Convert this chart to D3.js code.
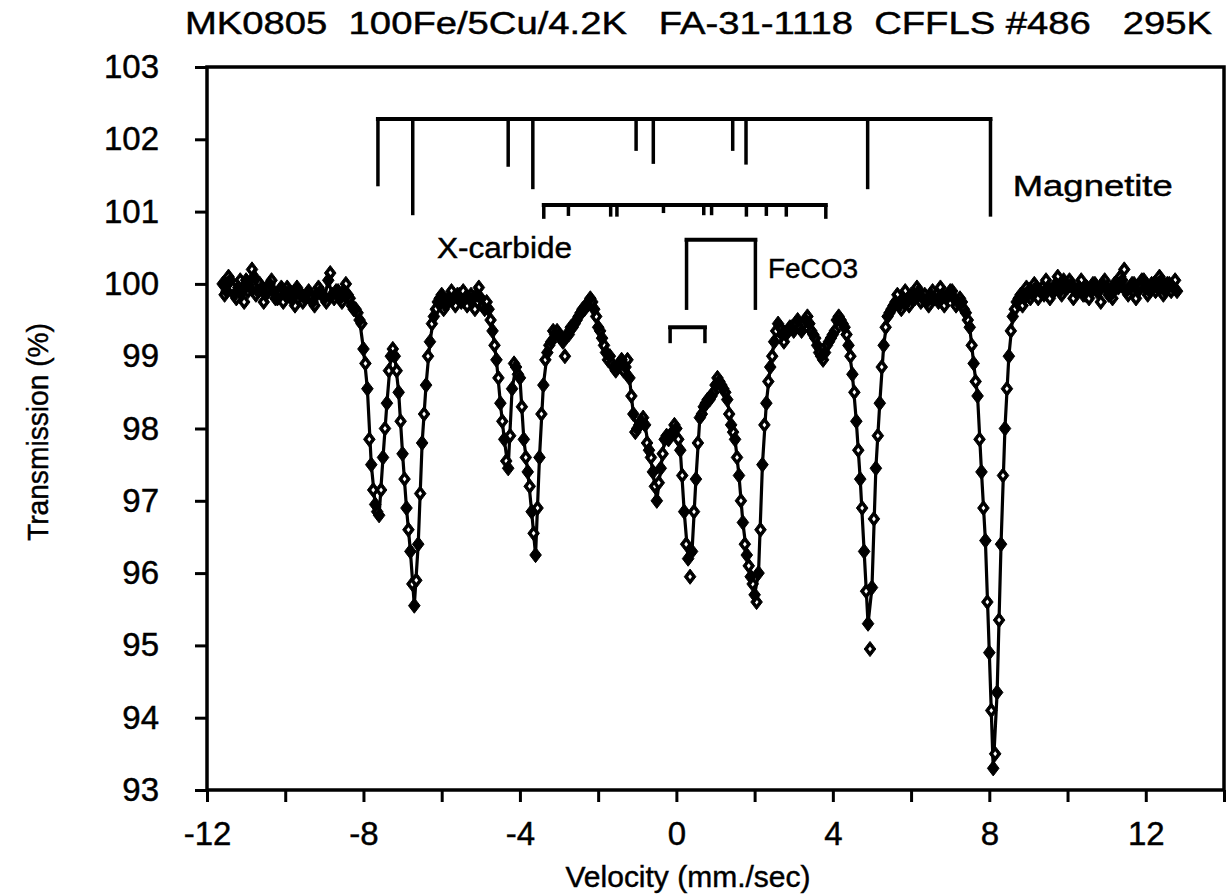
<!DOCTYPE html>
<html><head><meta charset="utf-8">
<script src="https://cdn.jsdelivr.net/npm/d3@7"></script>
<style>
html,body{margin:0;padding:0;background:#fff;}
svg{display:block;background:#fff;}
text{font-family:"Liberation Sans",Arial,Helvetica,sans-serif;fill:#000;stroke:#000;stroke-width:0.45px;}
</style></head><body>
<svg id="chart" width="1227" height="894"></svg>
<script>
// ---------- text ----------
const titleText = "MK0805  100Fe/5Cu/4.2K   FA-31-1118  CFFLS #486   295K";
const xLabelText = "Velocity (mm./sec)";
const yLabelText = "Transmission (%)";

// ---------- ticks ----------
const xTicks = [-12,-10,-8,-6,-4,-2,0,2,4,6,8,10,12,14];
const xTickLabels = [-12,-8,-4,0,4,8,12];
const yTicks = [93,94,95,96,97,98,99,100,101,102,103];

// ---------- spectrum, run A (filled diamonds, joined) ----------
const velocityA = [
-11.6,-11.5,-11.4,-11.3,-11.2,-11.1,-11.0,-10.9,-10.8,-10.7,
-10.6,-10.5,-10.4,-10.3,-10.2,-10.1,-10.0,-9.9,-9.8,-9.7,
-9.6,-9.5,-9.4,-9.3,-9.2,-9.1,-9.0,-8.9,-8.8,-8.7,
-8.6,-8.5,-8.4,-8.3,-8.2,-8.1,-8.0,-7.9,-7.8,-7.7,
-7.6,-7.5,-7.4,-7.3,-7.2,-7.1,-7.0,-6.9,-6.8,-6.7,
-6.6,-6.5,-6.4,-6.3,-6.2,-6.1,-6.0,-5.9,-5.8,-5.7,
-5.6,-5.5,-5.4,-5.3,-5.2,-5.1,-5.0,-4.9,-4.8,-4.7,
-4.6,-4.5,-4.4,-4.3,-4.2,-4.1,-4.0,-3.9,-3.8,-3.7,
-3.6,-3.5,-3.4,-3.3,-3.2,-3.1,-3.0,-2.9,-2.8,-2.7,
-2.6,-2.5,-2.4,-2.3,-2.2,-2.1,-2.0,-1.9,-1.8,-1.7,
-1.6,-1.5,-1.4,-1.3,-1.2,-1.1,-1.0,-0.9,-0.8,-0.7,
-0.6,-0.5,-0.4,-0.3,-0.2,-0.1,0.0,0.1,0.2,0.3,
0.4,0.5,0.6,0.7,0.8,0.9,1.0,1.1,1.2,1.3,
1.4,1.5,1.6,1.7,1.8,1.9,2.0,2.1,2.2,2.3,
2.4,2.5,2.6,2.7,2.8,2.9,3.0,3.1,3.2,3.3,
3.4,3.5,3.6,3.7,3.8,3.9,4.0,4.1,4.2,4.3,
4.4,4.5,4.6,4.7,4.8,4.9,5.0,5.1,5.2,5.3,
5.4,5.5,5.6,5.7,5.8,5.9,6.0,6.1,6.2,6.3,
6.4,6.5,6.6,6.7,6.8,6.9,7.0,7.1,7.2,7.3,
7.4,7.5,7.6,7.7,7.8,7.9,8.0,8.1,8.2,8.3,
8.4,8.5,8.6,8.7,8.8,8.9,9.0,9.1,9.2,9.3,
9.4,9.5,9.6,9.7,9.8,9.9,10.0,10.1,10.2,10.3,
10.4,10.5,10.6,10.7,10.8,10.9,11.0,11.1,11.2,11.3,
11.4,11.5,11.6,11.7,11.8,11.9,12.0,12.1,12.2,12.3,
12.4,12.5,12.6,12.7,12.8];
const transmissionA = [
100.0,99.9,100.05,99.85,99.95,99.9,100.05,99.95,100.1,99.9,
99.95,99.85,100.0,99.9,99.8,99.95,99.85,99.9,99.8,99.95,
99.85,99.8,99.9,99.75,99.85,99.9,99.8,100.05,99.85,99.9,
99.8,99.9,99.85,99.7,99.65,99.5,99.1,98.55,97.5,96.95,
96.8,97.6,98.35,99.0,99.0,98.5,97.65,96.9,96.3,95.55,
96.4,97.8,98.6,99.2,99.55,99.75,99.85,99.7,99.8,99.8,
99.85,99.75,99.8,99.8,99.8,99.85,99.8,99.65,99.65,99.35,
98.95,98.35,97.85,97.45,98.55,98.85,98.7,97.85,97.4,96.85,
96.25,97.6,98.6,99.05,99.2,99.3,99.3,99.2,99.3,99.4,
99.45,99.55,99.65,99.7,99.8,99.65,99.4,99.25,99.05,99.0,
98.85,98.85,98.95,98.85,98.7,98.2,98.0,98.1,98.05,97.7,
97.4,97.0,97.45,97.85,97.85,97.95,98.0,97.7,96.85,96.2,
96.3,97.3,98.15,98.3,98.4,98.45,98.6,98.65,98.55,98.4,
98.05,97.85,97.35,96.7,96.25,95.95,95.7,96.0,97.5,98.35,
98.85,99.2,99.45,99.3,99.3,99.4,99.35,99.5,99.35,99.5,
99.45,99.3,99.15,99.0,99.05,99.2,99.3,99.5,99.5,99.4,
99.15,98.75,98.1,97.3,96.3,95.3,95.8,97.45,98.35,99.15,
99.55,99.65,99.75,99.7,99.8,99.75,99.85,99.8,99.9,99.8,
99.75,99.85,99.8,99.75,99.85,99.8,99.9,99.8,99.75,99.75,
99.6,99.4,98.9,98.45,97.4,96.45,94.9,93.3,94.35,96.4,
98.0,99.0,99.55,99.75,99.85,99.8,99.9,99.85,99.95,99.9,
99.85,99.95,99.9,100.0,99.9,100.05,99.95,100.0,99.9,99.95,
99.85,99.95,99.9,100.0,99.9,100.0,99.95,99.85,100.0,99.95,
100.05,99.9,99.95,100.0,99.9,100.05,99.95,99.9,100.0,99.95,
100.05,99.9,100.0,99.95,99.9];

// ---------- spectrum, run B (open-centred diamonds) ----------
const velocityB = [
-11.55,-11.45,-11.35,-11.25,-11.15,-11.05,-10.95,-10.85,-10.75,-10.65,
-10.55,-10.45,-10.35,-10.25,-10.15,-10.05,-9.95,-9.85,-9.75,-9.65,
-9.55,-9.45,-9.35,-9.25,-9.15,-9.05,-8.95,-8.85,-8.75,-8.65,
-8.55,-8.45,-8.35,-8.25,-8.15,-8.05,-7.95,-7.85,-7.75,-7.65,
-7.55,-7.45,-7.35,-7.25,-7.15,-7.05,-6.95,-6.85,-6.75,-6.65,
-6.55,-6.45,-6.35,-6.25,-6.15,-6.05,-5.95,-5.85,-5.75,-5.65,
-5.55,-5.45,-5.35,-5.25,-5.15,-5.05,-4.95,-4.85,-4.75,-4.65,
-4.55,-4.45,-4.35,-4.25,-4.15,-4.05,-3.95,-3.85,-3.75,-3.65,
-3.55,-3.45,-3.35,-3.25,-3.15,-3.05,-2.95,-2.85,-2.75,-2.65,
-2.55,-2.45,-2.35,-2.25,-2.15,-2.05,-1.95,-1.85,-1.75,-1.65,
-1.55,-1.45,-1.35,-1.25,-1.15,-1.05,-0.95,-0.85,-0.75,-0.65,
-0.55,-0.45,-0.35,-0.25,-0.15,-0.05,0.05,0.15,0.25,0.35,
0.45,0.55,0.65,0.75,0.85,0.95,1.05,1.15,1.25,1.35,
1.45,1.55,1.65,1.75,1.85,1.95,2.05,2.15,2.25,2.35,
2.45,2.55,2.65,2.75,2.85,2.95,3.05,3.15,3.25,3.35,
3.45,3.55,3.65,3.75,3.85,3.95,4.05,4.15,4.25,4.35,
4.45,4.55,4.65,4.75,4.85,4.95,5.05,5.15,5.25,5.35,
5.45,5.55,5.65,5.75,5.85,5.95,6.05,6.15,6.25,6.35,
6.45,6.55,6.65,6.75,6.85,6.95,7.05,7.15,7.25,7.35,
7.45,7.55,7.65,7.75,7.85,7.95,8.05,8.15,8.25,8.35,
8.45,8.55,8.65,8.75,8.85,8.95,9.05,9.15,9.25,9.35,
9.45,9.55,9.65,9.75,9.85,9.95,10.05,10.15,10.25,10.35,
10.45,10.55,10.65,10.75,10.85,10.95,11.05,11.15,11.25,11.35,
11.45,11.55,11.65,11.75,11.85,11.95,12.05,12.15,12.25,12.35,
12.45,12.55,12.65,12.75];
const transmissionB = [
99.85,100.1,99.95,99.8,100.05,99.75,99.9,100.2,99.85,100.0,
99.75,99.9,100.05,99.8,99.9,99.75,99.95,99.8,99.7,99.9,
99.75,99.85,99.8,99.7,99.95,99.85,99.75,100.15,99.8,99.9,
99.75,100.0,99.8,99.65,99.6,99.45,98.9,97.85,97.15,96.85,
97.15,98.0,98.8,99.1,98.8,98.1,97.3,96.6,95.85,95.9,
97.1,98.2,99.0,99.45,99.65,99.8,99.65,99.75,99.9,99.7,
99.85,99.9,99.7,99.85,99.65,99.95,99.7,99.75,99.5,99.15,
98.7,98.1,97.55,97.9,98.9,98.75,98.3,97.6,97.2,96.55,
96.9,98.2,98.95,99.15,99.35,99.35,99.25,99.0,99.3,99.4,
99.5,99.6,99.65,99.75,99.75,99.55,99.35,99.15,98.95,98.9,
98.8,98.9,98.8,98.95,98.45,97.95,98.05,98.15,97.8,97.6,
97.2,97.25,97.65,97.9,97.9,98.05,97.85,97.35,96.4,95.95,
96.85,97.8,98.2,98.35,98.4,98.5,98.7,98.6,98.5,98.2,
97.95,97.6,97.0,96.4,96.1,95.85,95.6,96.6,98.05,98.65,
99.0,99.35,99.4,99.2,99.35,99.4,99.45,99.4,99.45,99.55,
99.35,99.25,99.05,98.95,99.15,99.25,99.35,99.55,99.45,99.3,
99.0,98.5,97.7,96.9,95.75,94.95,96.75,97.9,98.85,99.4,
99.6,99.7,99.85,99.65,99.9,99.7,99.8,99.95,99.75,99.85,
99.7,99.9,99.85,99.95,99.7,99.85,99.9,99.7,99.8,99.65,
99.5,99.15,98.65,97.85,96.9,95.6,94.1,93.5,95.35,97.35,
98.55,99.35,99.65,99.8,99.7,99.95,99.8,100.0,99.8,99.95,
100.05,99.8,99.9,100.1,99.85,99.95,100.05,99.8,99.9,100.05,
99.85,99.8,100.0,99.9,99.75,100.05,99.85,99.8,99.95,100.1,
100.2,99.85,100.0,99.8,99.95,100.05,99.85,100.0,99.9,100.1,
99.85,100.0,99.9,100.05];

// ---------- stick diagrams (velocity, lower end in % transmission) ----------
const magnetiteName = "Magnetite";
const magnetiteLines = [-7.63,-6.74,-4.30,-3.67,-1.03,-0.59,1.44,1.78,4.89,8.03];
const magnetiteEnds  = [101.35,100.95,101.62,101.31,101.84,101.66,101.84,101.65,101.31,100.93];
const magnetiteLevel = [102.28];

const carbideName = "X-carbide";
const carbideLines = [-3.39,-2.76,-1.68,-1.52,-0.33,0.70,0.90,1.79,2.30,2.81,3.82];
const carbideEnds  = [100.90,100.94,100.93,100.93,100.98,100.95,100.95,100.93,100.94,100.93,100.90];
const carbideLevel = [101.09];

const sideriteName = "FeCO3";
const sideriteLines = [0.26,2.02];
const sideriteEnds  = [99.64,99.64];
const sideriteLevel = [100.61];

const doubletLines = [-0.16,0.73];
const doubletEnds  = [99.18,99.18];
const doubletLevel = [99.40];

// ---------- drawing ----------
const svg = d3.select("#chart");
const W = 1227, H = 894;
svg.append("rect").attr("width", W).attr("height", H).attr("fill", "#fff");

const x = d3.scaleLinear().domain([-12, 14]).range([207, 1224]);
const y = d3.scaleLinear().domain([93, 103]).range([790, 67]);

// frame
svg.append("rect")
  .attr("x", x(-12)).attr("y", y(103))
  .attr("width", x(14) - x(-12)).attr("height", y(93) - y(103))
  .attr("fill", "none").attr("stroke", "#000").attr("stroke-width", 3.5);

// x axis
const xAxis = d3.axisBottom(x).tickValues(xTicks).tickSize(12).tickPadding(20)
  .tickFormat(d => xTickLabels.includes(d) ? String(d) : "");
const gx = svg.append("g").attr("transform", `translate(0,${y(93)})`).call(xAxis);
gx.select(".domain").remove();
gx.selectAll(".tick line").attr("stroke", "#000").attr("stroke-width", 3);
gx.selectAll(".tick text").attr("font-size", 33).attr("font-family", '"Liberation Sans",Arial,sans-serif').attr("fill", "#000");

// y axis
const yAxis = d3.axisLeft(y).tickValues(yTicks).tickSize(12).tickPadding(36)
  .tickFormat(d => String(d));
const gy = svg.append("g").attr("transform", `translate(${x(-12)},0)`).call(yAxis);
gy.select(".domain").remove();
gy.selectAll(".tick line").attr("stroke", "#000").attr("stroke-width", 3);
gy.selectAll(".tick text").attr("font-size", 33).attr("font-family", '"Liberation Sans",Arial,sans-serif').attr("fill", "#000");

// title
svg.append("text")
  .attr("x", 185).attr("y", 34)
  .attr("font-size", 31)
  .attr("textLength", 1027).attr("lengthAdjust", "spacingAndGlyphs")
  .style("white-space", "pre")
  .text(titleText);

// axis titles
svg.append("text")
  .attr("x", 688).attr("y", 887)
  .attr("text-anchor", "middle").attr("font-size", 30)
  .attr("textLength", 245).attr("lengthAdjust", "spacingAndGlyphs")
  .text(xLabelText);
svg.append("text")
  .attr("transform", "translate(48,432) rotate(-90)")
  .attr("text-anchor", "middle").attr("font-size", 30)
  .attr("textLength", 218).attr("lengthAdjust", "spacingAndGlyphs")
  .text(yLabelText);

// stick diagrams
function sticks(lines, ends, level, barWidth, stickWidth) {
  const g = svg.append("g").attr("stroke", "#000").attr("fill", "none");
  g.append("line")
    .attr("x1", x(d3.min(lines))).attr("x2", x(d3.max(lines)))
    .attr("y1", y(level[0])).attr("y2", y(level[0]))
    .attr("stroke-width", barWidth).attr("stroke-linecap", "square");
  g.selectAll("line.stick").data(lines).join("line")
    .attr("class", "stick")
    .attr("x1", d => x(d)).attr("x2", d => x(d))
    .attr("y1", y(level[0])).attr("y2", (d, i) => y(ends[i]))
    .attr("stroke-width", stickWidth);
}
sticks(magnetiteLines, magnetiteEnds, magnetiteLevel, 4, 3.5);
sticks(carbideLines, carbideEnds, carbideLevel, 4, 3.5);
sticks(sideriteLines, sideriteEnds, sideriteLevel, 4, 3.5);
sticks(doubletLines, doubletEnds, doubletLevel, 4, 3.5);

svg.append("text").attr("x", x(8.6)).attr("y", y(101.22)).attr("font-size", 29)
  .attr("textLength", 160).attr("lengthAdjust", "spacingAndGlyphs").text(magnetiteName);
svg.append("text").attr("x", x(-6.12)).attr("y", y(100.36)).attr("font-size", 29)
  .attr("textLength", 135).attr("lengthAdjust", "spacingAndGlyphs").text(carbideName);
svg.append("text").attr("x", x(2.34)).attr("y", y(100.08)).attr("font-size", 28).text(sideriteName);

// markers
const diamond = { draw(ctx, size) {
  const w = 5.8 * size, h = 7.6 * size;
  ctx.moveTo(0, -h); ctx.lineTo(w, 0); ctx.lineTo(0, h); ctx.lineTo(-w, 0); ctx.closePath();
}};
const runA = velocityA.map((v, i) => ({v, t: transmissionA[i]})).filter(d => d.t != null);
const runB = velocityB.map((v, i) => ({v, t: transmissionB[i]})).filter(d => d.t != null);

svg.append("path").datum(runA)
  .attr("fill", "none").attr("stroke", "#000").attr("stroke-width", 3.2)
  .attr("stroke-linejoin", "round")
  .attr("d", d3.line().x(d => x(d.v)).y(d => y(d.t)));

// run B: black diamond outline with a small white centre
const gB = svg.append("g").selectAll("g").data(runB).join("g")
  .attr("transform", d => `translate(${x(d.v)},${y(d.t)})`);
gB.append("path")
  .attr("d", d3.symbol().type(diamond).size(1))
  .attr("fill", "#000").attr("stroke", "#000").attr("stroke-width", 1);
gB.append("path")
  .attr("d", d3.symbol().type(diamond).size(0.33))
  .attr("fill", "#fff");

svg.append("g").selectAll("path").data(runA).join("path")
  .attr("transform", d => `translate(${x(d.v)},${y(d.t)})`)
  .attr("d", d3.symbol().type(diamond).size(1))
  .attr("fill", "#000").attr("stroke", "#000").attr("stroke-width", 1);
</script>
</body></html>
